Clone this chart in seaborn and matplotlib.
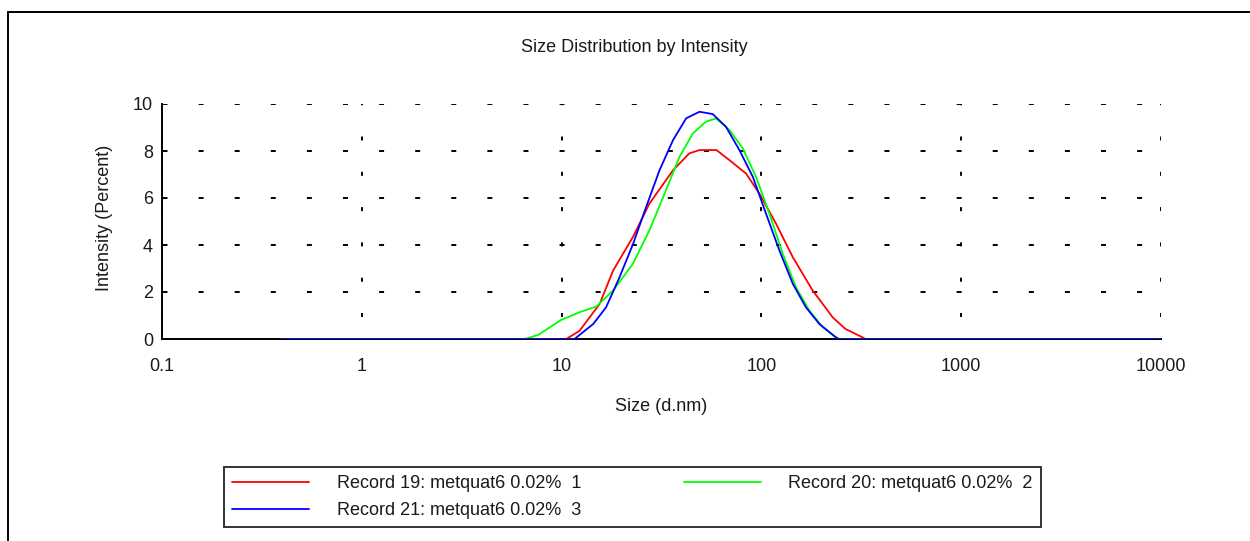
import numpy as np
import pandas as pd
import matplotlib
matplotlib.use("Agg")
import matplotlib.pyplot as plt
from matplotlib.ticker import FixedLocator, MultipleLocator, LogLocator, NullFormatter
from matplotlib.lines import Line2D
import seaborn as sns

# ---------------- data ----------------
labels = ["Record 19: metquat6 0.02%  1",
          "Record 20: metquat6 0.02%  2",
          "Record 21: metquat6 0.02%  3"]
colors = ["#ff0000", "#00ff00", "#0000ff"]

size_19 = [0.4, 10.55, 12.3, 15.5, 18.1, 22.75, 27.5, 36.1, 43.6, 49.0, 59.6, 69.2,
           83.8, 97.7, 118.3, 143.6, 180.7, 227.5, 263.0, 321.0, 331.0, 10000]
int_19 = [0, 0, 0.35, 1.49, 2.91, 4.34, 5.76, 7.18, 7.9, 8.04, 8.04, 7.61,
          7.04, 6.19, 4.91, 3.48, 2.06, 0.92, 0.43, 0.07, 0, 0]

size_20 = [0.4, 6.53, 7.62, 9.95, 12.3, 14.9, 18.1, 22.75, 27.5, 33.3, 38.9, 45.4,
           52.8, 59.3, 69.2, 80.7, 94.0, 109.6, 127.9, 148.9, 173.8, 202.8, 236.0, 245.0, 10000]
int_20 = [0, 0, 0.17, 0.81, 1.14, 1.38, 2.06, 3.2, 4.62, 6.33, 7.75, 8.75,
          9.25, 9.39, 8.89, 8.11, 6.9, 5.34, 3.63, 2.2, 1.21, 0.5, 0.07, 0, 0]

size_21 = [0.4, 11.6, 14.4, 16.7, 19.5, 22.8, 26.5, 30.9, 36.1, 42.0, 49.0, 57.1,
           66.5, 77.6, 90.6, 105.4, 123.0, 143.6, 167.0, 195.0, 236.0, 245.0, 10000]
int_21 = [0, 0, 0.64, 1.35, 2.63, 4.05, 5.62, 7.18, 8.46, 9.39, 9.67, 9.57,
          9.03, 8.04, 6.9, 5.34, 3.77, 2.35, 1.35, 0.64, 0.07, 0, 0]

x_ticks = [0.1, 1, 10, 100, 1000, 10000]
x_tick_labels = ["0.1", "1", "10", "100", "1000", "10000"]
y_ticks = [0, 2, 4, 6, 8, 10]

df = pd.concat([
    pd.DataFrame({"size": size_19, "intensity": int_19, "record": labels[0]}),
    pd.DataFrame({"size": size_20, "intensity": int_20, "record": labels[1]}),
    pd.DataFrame({"size": size_21, "intensity": int_21, "record": labels[2]}),
], ignore_index=True)

# ---------------- style ----------------
sns.set_theme(style="white")
plt.rcParams["font.family"] = ["Liberation Sans", "DejaVu Sans"]
plt.rcParams["lines.scale_dashes"] = False
FS = 13
TXT = "#1a1a1a"

W, H = 1250, 541
fig = plt.figure(figsize=(W / 100, H / 100), dpi=100)
ax = fig.add_axes([162 / W, 1 - 339 / H, (1161 - 162) / W, (339 - 104) / H])

palette = dict(zip(labels, colors))
sns.lineplot(data=df, x="size", y="intensity", hue="record", hue_order=labels,
             palette=palette, estimator=None, sort=False, linewidth=1.3,
             legend=False, ax=ax, zorder=5)

ax.set_xscale("log")
ax.set_xlim(0.1, 10000)
ax.set_ylim(0, 10)

ax.xaxis.set_major_locator(FixedLocator(x_ticks))
ax.set_xticklabels(x_tick_labels)
ax.xaxis.set_minor_locator(LogLocator(base=10, subs=np.arange(2, 10)))
ax.xaxis.set_minor_formatter(NullFormatter())
ax.yaxis.set_major_locator(FixedLocator(y_ticks))
ax.yaxis.set_minor_locator(MultipleLocator(1))

for s in ["top", "right"]:
    ax.spines[s].set_visible(False)
for s in ["left", "bottom"]:
    ax.spines[s].set_color("black")
    ax.spines[s].set_linewidth(1.4)
    ax.spines[s].set_zorder(4)

ax.tick_params(axis="both", which="major", direction="out", length=4, width=1.4,
               colors="black", labelsize=FS, labelcolor=TXT)
ax.tick_params(axis="x", which="major", pad=10)
ax.tick_params(axis="y", which="major", pad=2.5)
ax.tick_params(axis="x", which="minor", direction="out", length=2, width=1.4, colors="black")
ax.tick_params(axis="y", which="minor", direction="inout", length=5, width=1.4, colors="black")

# dashed grid (dash lengths in points, 1pt = 1.389px)
px = 1 / 1.389
ax.yaxis.grid(True, which="major", color="black", linewidth=1.4,
              linestyle=(35.6 * px, (5 * px, 31.1 * px)))
ax.xaxis.grid(True, which="major", color="black", linewidth=1.4,
              linestyle=(13.3 * px, (4 * px, 31.3 * px)))
ax.set_axisbelow(True)

ax.set_xlabel("Size (d.nm)", fontsize=FS, color=TXT)
ax.xaxis.set_label_coords(0.5, (339 - 398) / 235)
ax.set_ylabel("Intensity (Percent)", fontsize=FS, color=TXT)
ax.yaxis.set_label_coords((113 - 162) / 999, 0.515)
fig.text(634 / W, 1 - 47 / H, "Size Distribution by Intensity", fontsize=FS,
         ha="center", va="center", color=TXT)

# legend: order red, blue (column 1), green (column 2)
handles = [Line2D([], [], color=c, linewidth=1.3) for c in colors]
order = [0, 2, 1]
leg = fig.legend([handles[i] for i in order], [labels[i] for i in order],
                 ncol=2, loc="lower left",
                 bbox_to_anchor=(224 / W, 1 - 527 / H, (1041 - 224) / W, (527 - 468) / H),
                 mode="expand", borderaxespad=0, fontsize=FS, frameon=True,
                 fancybox=False, edgecolor="black", handlelength=4.26,
                 handletextpad=1.55, labelspacing=0.55, borderpad=0.45,
                 columnspacing=3.0)
leg.get_frame().set_linewidth(1.4)
for t in leg.get_texts():
    t.set_color(TXT)

# outer frame lines (top and left)
fig.add_artist(Line2D([8 / W, 1], [1 - 12 / H, 1 - 12 / H], color="black", linewidth=1.4,
                      transform=fig.transFigure))
fig.add_artist(Line2D([8 / W, 8 / W], [0, 1 - 12 / H], color="black", linewidth=1.4,
                      transform=fig.transFigure))

fig.savefig("out.png", dpi=100, facecolor="white")
